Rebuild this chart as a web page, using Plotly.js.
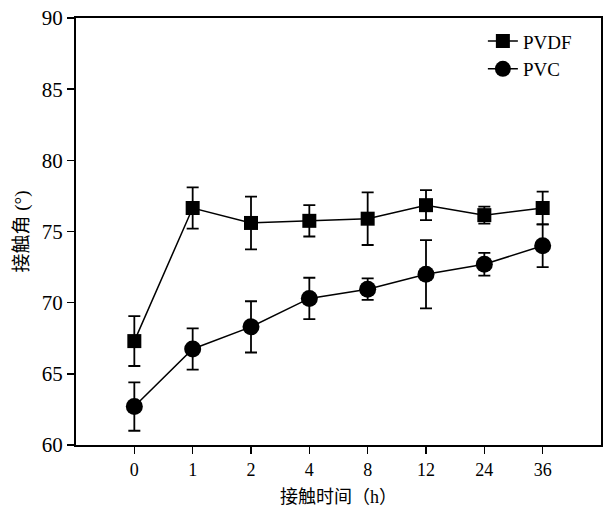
<!DOCTYPE html>
<html>
<head>
<meta charset="utf-8">
<script src="https://cdn.plot.ly/plotly-3.0.1.min.js"></script>
<style>html,body{margin:0;padding:0;background:#fff;}#chart{width:605px;height:507px;}</style>
</head>
<body>
<div id="chart"></div>
<script>
const categories = ["0", "1", "2", "4", "8", "12", "24", "36"];
const pvdfValues = [67.3, 76.65, 75.6, 75.75, 75.9, 76.85, 76.15, 76.65];
const pvdfErrors = [1.75, 1.45, 1.85, 1.1, 1.85, 1.05, 0.6, 1.15];
const pvcValues = [62.7, 66.75, 68.3, 70.3, 70.95, 72.0, 72.7, 74.0];
const pvcErrors = [1.7, 1.45, 1.8, 1.45, 0.75, 2.4, 0.8, 1.5];

const serif = "'Liberation Serif', 'Times New Roman', serif";
const cjk = "'Liberation Serif', 'Noto Sans CJK SC', serif";

const traces = [
  {
    x: categories, y: pvdfValues, name: "PVDF", type: "scatter", mode: "lines+markers",
    line: {color: "#000", width: 1.5},
    marker: {symbol: "square", size: 14, color: "#000"},
    error_y: {type: "data", array: pvdfErrors, visible: true, color: "#000", thickness: 1.8, width: 6}
  },
  {
    x: categories, y: pvcValues, name: "PVC", type: "scatter", mode: "lines+markers",
    line: {color: "#000", width: 1.5},
    marker: {symbol: "circle", size: 17, color: "#000"},
    error_y: {type: "data", array: pvcErrors, visible: true, color: "#000", thickness: 1.8, width: 6}
  }
];

const layout = {
  width: 605, height: 507,
  margin: {l: 76, r: 4, t: 18, b: 62},
  paper_bgcolor: "#fff", plot_bgcolor: "#fff",
  showlegend: true,
  legend: {x: 0.775, y: 0.99, xanchor: "left", yanchor: "top", bgcolor: "rgba(0,0,0,0)",
           font: {family: serif, size: 19, color: "#000"}, tracegroupgap: 0},
  xaxis: {
    type: "category", range: [-1, 8],
    showline: true, linecolor: "#000", linewidth: 2, mirror: true,
    ticks: "outside", ticklen: 7, tickwidth: 1.5, tickcolor: "#000",
    showgrid: false, zeroline: false,
    tickfont: {family: serif, size: 18, color: "#000"},
    title: {text: "接触时间（h）", font: {family: cjk, size: 18, color: "#000"}, standoff: 14}
  },
  yaxis: {
    range: [60, 90], dtick: 5,
    showline: true, linecolor: "#000", linewidth: 2, mirror: true,
    ticks: "outside", ticklen: 7, tickwidth: 1.5, tickcolor: "#000",
    showgrid: false, zeroline: false,
    tickfont: {family: serif, size: 21, color: "#000"},
    title: {text: "接触角 (°)", font: {family: cjk, size: 19, color: "#000"}, standoff: 8}
  }
};

Plotly.newPlot("chart", traces, layout, {displayModeBar: false, staticPlot: true});
</script>
</body>
</html>
